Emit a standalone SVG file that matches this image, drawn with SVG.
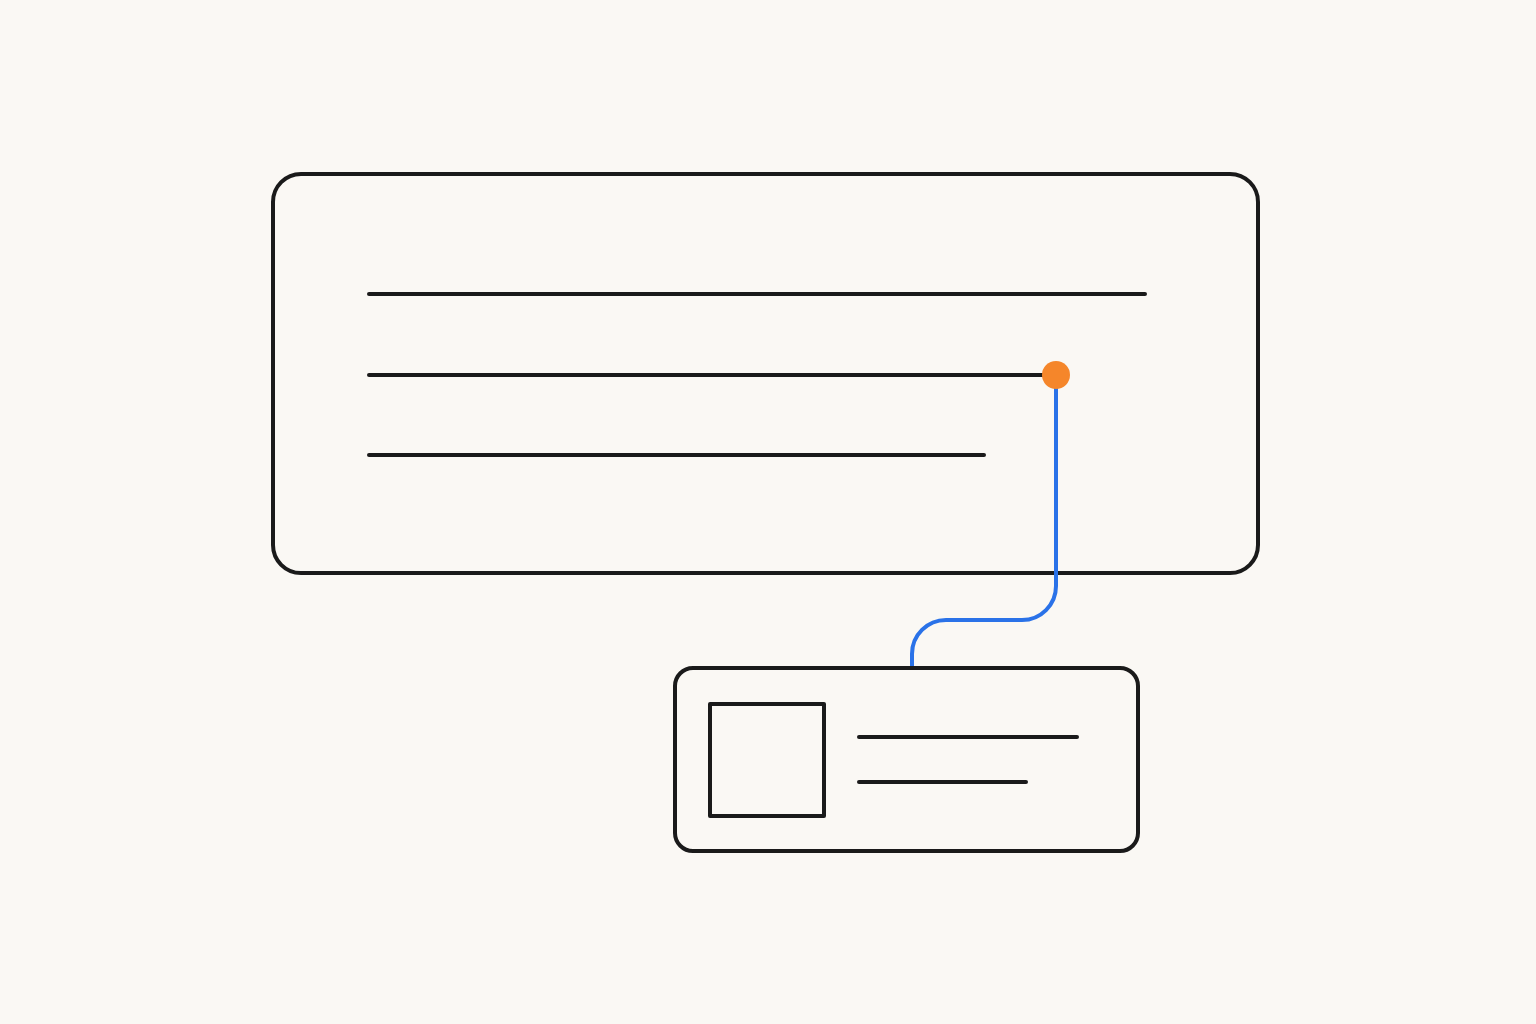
<svg xmlns="http://www.w3.org/2000/svg" width="1536" height="1024" viewBox="0 0 1536 1024">
<style>
.box{fill:none;stroke:#1a1a1a;stroke-width:4}
.ln{stroke:#1a1a1a;stroke-width:4;stroke-linecap:round}
.conn{fill:none;stroke:#2a72e8;stroke-width:4}
</style>
<rect width="1536" height="1024" fill="#faf8f4"/>
<g id="main-card">
<rect class="box" x="273" y="174" width="985" height="399" rx="28"/>
<line class="ln" x1="369" y1="294" x2="1145" y2="294"/>
<line class="ln" x1="369" y1="375" x2="1045" y2="375"/>
<line class="ln" x1="369" y1="455" x2="984" y2="455"/>
</g>
<g id="connectors">
<path class="conn" d="M1056 375 V586 A34 34 0 0 1 1022 620 H946 A34 34 0 0 0 912 654 V668"/>
</g>
<g id="anchor-dot">
<circle cx="1056" cy="375" r="14" fill="#f5862a"/>
</g>
<g id="small-card">
<rect class="box" x="675" y="668" width="463" height="183" rx="18"/>
<rect class="box" x="710" y="704" width="114" height="112" stroke-linejoin="round"/>
<line class="ln" x1="859" y1="737" x2="1077" y2="737"/>
<line class="ln" x1="859" y1="782" x2="1026" y2="782"/>
</g>
</svg>
